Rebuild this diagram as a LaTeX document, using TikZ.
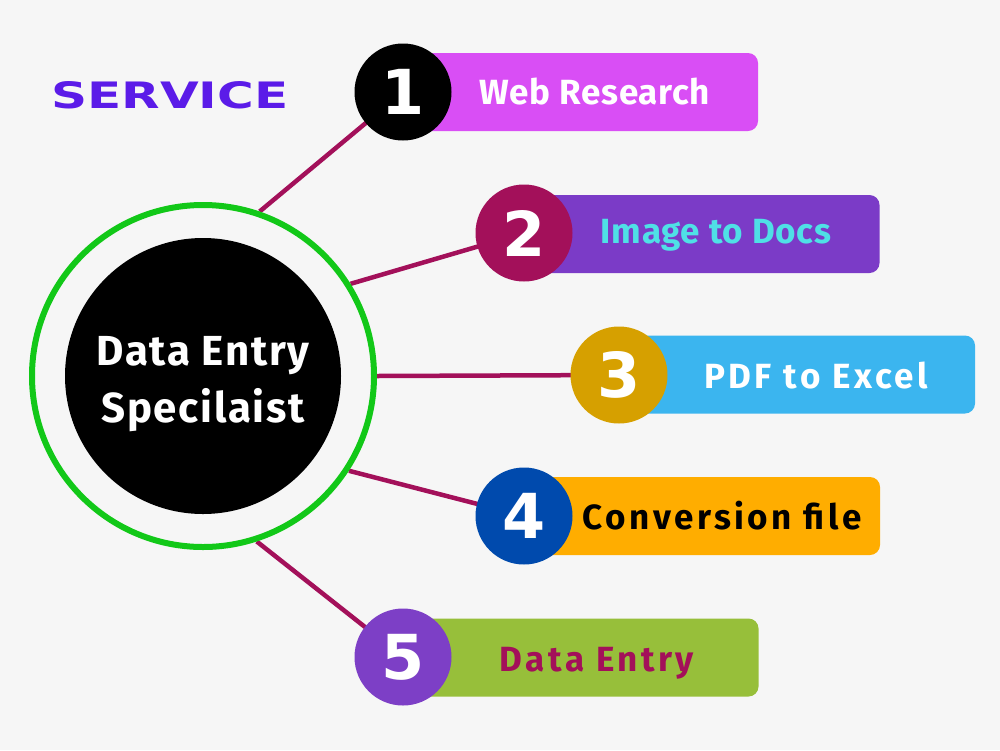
\documentclass[tikz,border=0pt]{standalone}
\usepackage{fontspec}
\usepackage{graphicx}
\setmainfont{Fira Sans}
\newfontfamily\numfont{DejaVu Sans}
\usetikzlibrary{backgrounds}
\definecolor{bgc}{HTML}{F6F6F6}
\definecolor{servc}{HTML}{5B1BE8}
\definecolor{ringc}{HTML}{12C818}
\definecolor{linec}{HTML}{A3105A}
\definecolor{magc}{HTML}{D94EF5}
\definecolor{purc}{HTML}{7B3BC7}
\definecolor{goldc}{HTML}{D6A000}
\definecolor{skyc}{HTML}{3BB5EF}
\definecolor{bluec}{HTML}{004AAD}
\definecolor{orac}{HTML}{FFAD00}
\definecolor{pur5c}{HTML}{7D3FC6}
\definecolor{olivec}{HTML}{97BF3A}
\definecolor{cyanc}{HTML}{4FE0E6}
\tikzset{
  numc/.style={circle, minimum size=97pt, inner sep=0pt, text=white,
    font=\numfont\bfseries\fontsize{62}{62}\selectfont},
  bar/.style={rectangle, rounded corners=10pt, minimum width=356pt, minimum height=78pt, inner sep=0pt},
  lbl/.style={anchor=base, inner sep=0pt, font=\bfseries\fontsize{35}{35}\selectfont\addfontfeature{LetterSpace=2}},
  lbls/.style={anchor=base, inner sep=0pt, font=\bfseries\fontsize{35}{35}\selectfont\addfontfeature{LetterSpace=10}},
  hubtxt/.style={anchor=base, inner sep=0pt, text=white, font=\bfseries\fontsize{42}{42}\selectfont\addfontfeature{LetterSpace=4}},
  conn/.style={draw=linec, line width=4.5pt},
}
\begin{document}
\begin{tikzpicture}[x=1pt,y=-1pt]
\useasboundingbox (0,0) rectangle (1000,750);
% title
\node[inner sep=0pt, text=servc] (title) at (170,95.5)
  {\resizebox{237pt}{27pt}{\numfont\bfseries SERVICE}};
% central hub
\node[circle, draw=ringc, line width=6pt, minimum size=342pt, inner sep=0pt] (ring) at (203,376) {};
\node[circle, fill=black, minimum size=276pt, inner sep=0pt] (hub) at (203,376) {};
\node[hubtxt] (c1) at (203,365) {Data Entry};
\node[hubtxt] (c2) at (203,422) {Specilaist};
% bars
\node[bar, fill=magc] (b1) at (580,92) {};
\node[bar, fill=purc] (b2) at (701.5,234) {};
\node[bar, fill=skyc] (b3) at (797,374.5) {};
\node[bar, fill=orac] (b4) at (702,516) {};
\node[bar, fill=olivec] (b5) at (580.5,657.5) {};
% number circles
\node[numc, fill=black] (n1) at (403,92) {1};
\node[numc, fill=linec] (n2) at (524,233) {2};
\node[numc, fill=goldc] (n3) at (619,375) {3};
\node[numc, fill=bluec] (n4) at (524,516) {4};
\node[numc, fill=pur5c] (n5) at (403,657) {5};
% labels
\node[lbl, text=white] (t1) at (595,104) {Web Research};
\node[lbl, text=cyanc] (t2) at (716,243) {Image to Docs};
\node[lbls, text=white] (t3) at (816,388) {PDF to Excel};
\node[lbls, text=black] (t4) at (722,529) {Conversion file};
\node[lbls, text=linec] (t5) at (597,671) {Data Entry};
% connectors
\begin{scope}[on background layer]
\fill[bgc] (0,0) rectangle (1000,750);
\draw[conn] (ring.71) -- (n1.center);
\draw[conn] (ring.32) -- (n2.center);
\draw[conn] (ring.0) -- (n3.center);
\draw[conn] (ring.-33) -- (n4.center);
\draw[conn] (ring.-72) -- (n5.center);
\end{scope}
\end{tikzpicture}
\end{document}
